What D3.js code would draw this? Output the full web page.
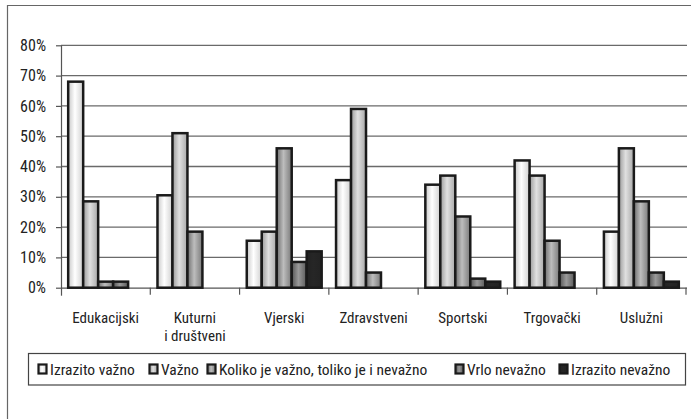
<!DOCTYPE html>
<html>
<head>
<meta charset="utf-8">
<script src="https://cdn.jsdelivr.net/npm/d3@7"></script>
<style>
  body { margin: 0; background: #fff; }
  text { font-family: "Liberation Sans Narrow", "Roboto Condensed", "Open Sans", sans-serif; fill: #222; }
</style>
</head>
<body>
<script>
// categories and series (values in %)
const categories = ["Edukacijski", "Kuturni\ni društveni", "Vjerski", "Zdravstveni", "Sportski", "Trgovački", "Uslužni"];
const seriesNames = ["Izrazito važno", "Važno", "Koliko je važno, toliko je i nevažno", "Vrlo nevažno", "Izrazito nevažno"];
const izrazitoVazno   = [68, 30.5, 15.5, 35.5, 34, 42, 18.5];
const vazno           = [28.5, 51, 18.5, 59, 37, 37, 46];
const kolikoVazno     = [2, 18.5, 46, 5, 23.5, 15.5, 28.5];
const vrloNevazno     = [2, 0, 8.5, 0, 3, 5, 5];
const izrazitoNevazno = [0, 0, 12, 0, 2, 0, 2];
const yTicks = [0, 10, 20, 30, 40, 50, 60, 70, 80];

const seriesValues = [izrazitoVazno, vazno, kolikoVazno, vrloNevazno, izrazitoNevazno];

const W = 691, H = 419;
const plot = {left: 61, right: 686, top: 45.3, bottom: 287.7};

const svg = d3.select("body").append("svg")
    .attr("width", W)
    .attr("height", H);

// gradients for the bar fills (left, middle, right)
const grads = [
    ["#c8c8c8", "#ffffff", "#d0d0d0"],
    ["#9a9a9a", "#e0e0e0", "#a8a8a8"],
    ["#6e6e6e", "#bdbdbd", "#7a7a7a"],
    ["#555555", "#9a9a9a", "#5a5a5a"],
    ["#222222", "#262626", "#222222"]
];
const defs = svg.append("defs");
grads.forEach((g, i) => {
    const lg = defs.append("linearGradient")
        .attr("id", "g" + i)
        .attr("x1", "0%").attr("x2", "100%").attr("y1", "0%").attr("y2", "0%");
    lg.append("stop").attr("offset", "0%").attr("stop-color", g[0]);
    lg.append("stop").attr("offset", "45%").attr("stop-color", g[1]);
    lg.append("stop").attr("offset", "100%").attr("stop-color", g[2]);
});

// outer frame (left + top only visible)
svg.append("path")
    .attr("d", "M7.5," + H + "V5.5H" + W)
    .attr("fill", "none")
    .attr("stroke", "#666")
    .attr("stroke-width", 1.2);

// scales
const x0 = d3.scaleBand().domain(categories).range([plot.left, plot.right]).padding(0);
const x1 = d3.scaleBand().domain(d3.range(seriesNames.length))
    .range([0, x0.bandwidth()]).paddingInner(0).paddingOuter(0.48);
const y = d3.scaleLinear().domain([0, 80]).range([plot.bottom, plot.top]);

// gridlines
svg.append("g")
    .selectAll("line")
    .data(yTicks.filter(d => d > 0))
    .join("line")
    .attr("x1", plot.left).attr("x2", plot.right + 1)
    .attr("y1", d => y(d)).attr("y2", d => y(d))
    .attr("stroke", "#6a6a6a")
    .attr("stroke-width", 1.3);

// y axis
const yAxis = svg.append("g")
    .attr("transform", "translate(" + plot.left + ",0)")
    .call(d3.axisLeft(y).tickValues(yTicks).tickFormat(d => d + "%").tickSize(5).tickPadding(10));
yAxis.select(".domain").attr("stroke", "#555").attr("stroke-width", 1.2)
    .attr("d", "M0.5," + plot.top + "V" + (plot.bottom + 8));
yAxis.selectAll(".tick line").attr("stroke", "#555").attr("stroke-width", 1.2);
yAxis.selectAll(".tick text").attr("font-size", 16).attr("fill", "#222");

// x axis (ticks at category boundaries)
const bounds = categories.map(c => x0(c)).concat([plot.right]);
const xAxis = svg.append("g");
xAxis.append("line")
    .attr("x1", plot.left).attr("x2", plot.right + 1)
    .attr("y1", plot.bottom + 0.5).attr("y2", plot.bottom + 0.5)
    .attr("stroke", "#555").attr("stroke-width", 1.2);
xAxis.selectAll(".bt")
    .data(bounds.slice(1))
    .join("line")
    .attr("x1", d => d).attr("x2", d => d)
    .attr("y1", plot.bottom).attr("y2", plot.bottom + 7)
    .attr("stroke", "#555").attr("stroke-width", 1.2);

// category labels
const catLabels = svg.append("g").selectAll("text")
    .data(categories)
    .join("text")
    .attr("x", d => x0(d) + x0.bandwidth() / 2)
    .attr("y", 323)
    .attr("text-anchor", "middle")
    .attr("font-size", 15);
catLabels.each(function (d) {
    const lines = d.split("\n");
    d3.select(this).selectAll("tspan")
        .data(lines)
        .join("tspan")
        .attr("x", x0(d) + x0.bandwidth() / 2)
        .attr("dy", (l, i) => i === 0 ? 0 : 17.5)
        .text(l => l);
});

// bars
const groups = svg.append("g")
    .selectAll("g")
    .data(categories)
    .join("g")
    .attr("transform", d => "translate(" + x0(d) + ",0)");

groups.selectAll("rect")
    .data((c, ci) => seriesValues.map((vals, si) => ({si: si, v: vals[ci]})).filter(d => d.v > 0))
    .join("rect")
    .attr("x", d => x1(d.si))
    .attr("width", x1.bandwidth())
    .attr("y", d => y(d.v))
    .attr("height", d => y(0) - y(d.v))
    .attr("fill", d => "url(#g" + d.si + ")")
    .attr("stroke", "#1a1a1a")
    .attr("stroke-width", 2.5);

// legend
const legend = svg.append("g");
legend.append("rect")
    .attr("x", 28.5).attr("y", 353.5)
    .attr("width", 657).attr("height", 31.5)
    .attr("fill", "#fff")
    .attr("stroke", "#444")
    .attr("stroke-width", 1.2);

const legendX = [38, 149, 207, 455, 559];
const items = legend.selectAll(".item")
    .data(seriesNames)
    .join("g")
    .attr("transform", (d, i) => "translate(" + legendX[i] + ",0)");
items.append("rect")
    .attr("x", 0.5).attr("y", 364.5)
    .attr("width", 8).attr("height", 9)
    .attr("fill", (d, i) => "url(#g" + i + ")")
    .attr("stroke", "#1a1a1a")
    .attr("stroke-width", 2.2);
items.append("text")
    .attr("x", 12)
    .attr("y", 374.5)
    .attr("font-size", 15.5)
    .text(d => d);
</script>
</body>
</html>
